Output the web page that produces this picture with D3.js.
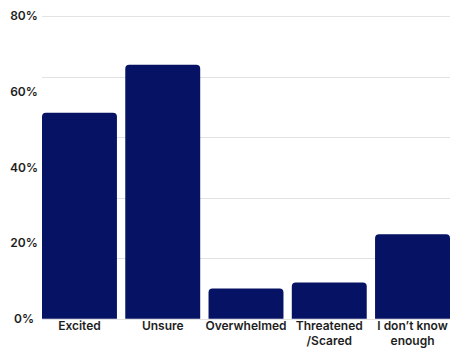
<!DOCTYPE html>
<html>
<head>
<meta charset="utf-8">
<script src="https://cdn.jsdelivr.net/npm/d3@7"></script>
<style>
  html, body { margin: 0; padding: 0; background: #fff; }
  svg { display: block; }
  text { font-family: Inter, "Open Sans", sans-serif; font-weight: 600; fill: #1e1e1e; }
</style>
</head>
<body>
<svg id="chart" width="452" height="349"></svg>
<script>
// Responses (percent of respondents, multiple answers allowed)
const categories = ["Excited", "Unsure", "Overwhelmed", "Threatened\n/Scared", "I don\u2019t know\nenough"];
const values = [54.4, 67.1, 8.0, 9.6, 22.3];
const yTicks = [0, 20, 40, 60, 80];
const gridLevels = [0, 16, 32, 48, 64, 80];

const plotLeft = 42, plotRight = 450, plotTop = 16, plotBase = 318.7;

const svg = d3.select("#chart");

const x = d3.scaleBand()
  .domain(categories)
  .range([plotLeft, plotRight])
  .paddingInner(0.1)
  .paddingOuter(0);

const y = d3.scaleLinear()
  .domain([0, 80])
  .range([plotBase, plotTop]);

// Horizontal gridlines
svg.append("g")
  .selectAll("line")
  .data(gridLevels)
  .join("line")
  .attr("x1", plotLeft)
  .attr("x2", plotRight)
  .attr("y1", d => Math.round(y(d)) + 0.5)
  .attr("y2", d => Math.round(y(d)) + 0.5)
  .attr("stroke", "#e2e2e2")
  .attr("stroke-width", 1);

// Y axis labels
const yAxis = d3.axisLeft(y)
  .tickValues(yTicks)
  .tickFormat(d => d + "%")
  .tickSize(0);
const gy = svg.append("g")
  .attr("transform", "translate(24,0)")
  .call(yAxis)
  .attr("font-family", null)
  .attr("font-size", null);
gy.select(".domain").remove();
gy.selectAll("text")
  .attr("x", 0)
  .attr("text-anchor", "middle")
  .attr("font-size", 12);

// Bars with rounded top corners
const r = 4;
function barPath(x0, w, yTop, yBot) {
  const rr = Math.min(r, (yBot - yTop), w / 2);
  return `M${x0},${yBot}V${yTop + rr}Q${x0},${yTop} ${x0 + rr},${yTop}` +
         `H${x0 + w - rr}Q${x0 + w},${yTop} ${x0 + w},${yTop + rr}V${yBot}Z`;
}
svg.append("g")
  .selectAll("path")
  .data(categories.map((c, i) => ({ c, v: values[i] })))
  .join("path")
  .attr("d", d => barPath(x(d.c), x.bandwidth(), y(d.v), y(0)))
  .attr("fill", "#061263");

// Category labels (multi-line)
const xl = svg.append("g")
  .selectAll("text")
  .data(categories)
  .join("text")
  .attr("x", d => x(d) + x.bandwidth() / 2)
  .attr("y", 330)
  .attr("text-anchor", "middle")
  .attr("font-size", 12);
xl.selectAll("tspan")
  .data(d => d.split("\n").map((t, i) => ({ t, i, x: x(d) + x.bandwidth() / 2 })))
  .join("tspan")
  .attr("x", d => d.x)
  .attr("dy", d => d.i === 0 ? 0 : 15)
  .text(d => d.t);
</script>
</body>
</html>
